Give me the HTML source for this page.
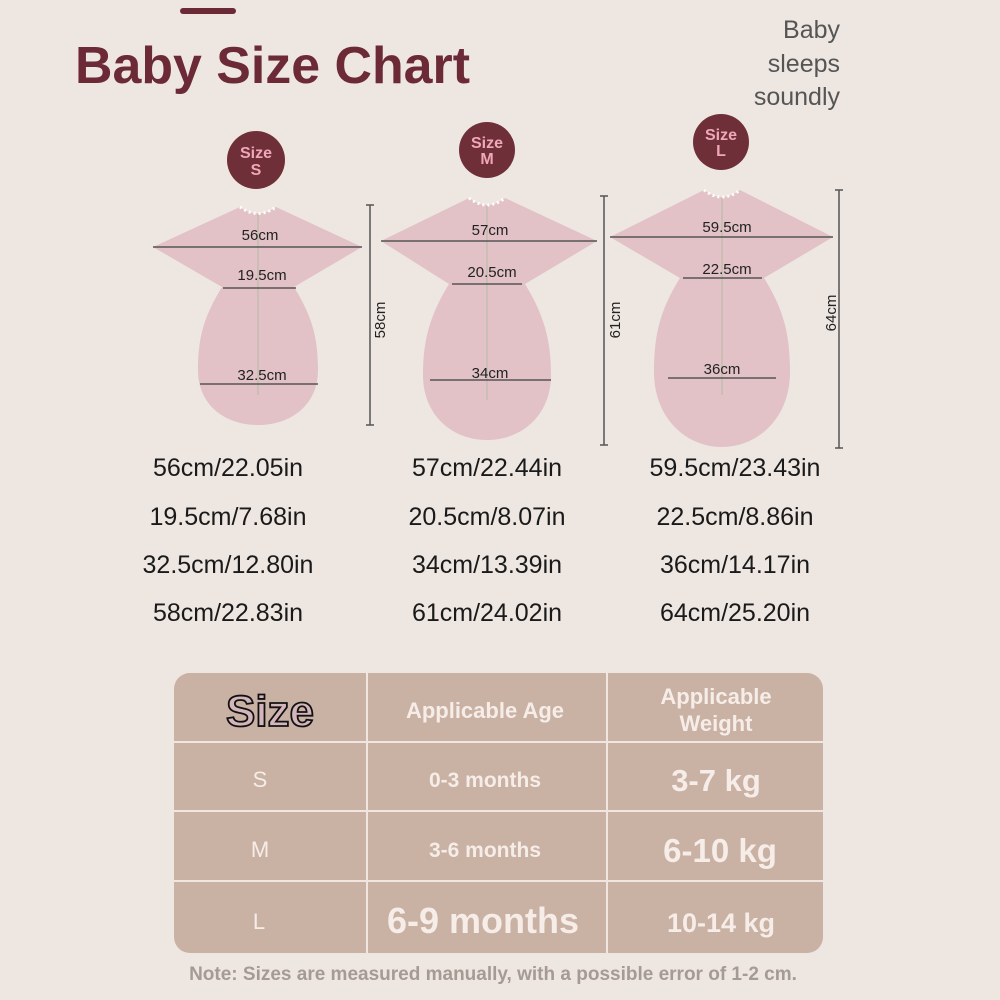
<!DOCTYPE html>
<html><head><meta charset="utf-8"><style>
html,body{margin:0;padding:0;background:#ede6e1;}
svg{display:block;font-family:"Liberation Sans","DejaVu Sans",sans-serif;}
</style></head><body>
<svg width="1000" height="1000" viewBox="0 0 1000 1000" xmlns="http://www.w3.org/2000/svg">
<rect width="1000" height="1000" fill="#ede6e1"/>
<rect x="180" y="8" width="56" height="6" rx="3" fill="#6b2a35"/>
<text x="75" y="83" font-size="52" font-weight="bold" fill="#6b2a35" textLength="395" lengthAdjust="spacingAndGlyphs">Baby Size Chart</text>
<g font-size="25" fill="#555" text-anchor="end">
<text x="840" y="38">Baby</text><text x="840" y="72">sleeps</text><text x="840" y="105">soundly</text>
</g>
<g font-weight="bold" fill="#f0a8b8" text-anchor="middle" font-size="16">
<circle cx="256" cy="160" r="29" fill="#6e2f39"/><text x="256" y="158">Size</text><text x="256" y="175">S</text>
<circle cx="487" cy="150" r="28" fill="#6e2f39"/><text x="487" y="148">Size</text><text x="487" y="164">M</text>
<circle cx="721" cy="142" r="28" fill="#6e2f39"/><text x="721" y="140">Size</text><text x="721" y="156">L</text>
</g>
<g fill="#e2c2c6">
<path d="M240,207 L153,247 L222,287 C205,315 198,335 198,370 C198,405 225,425 258,425 C291,425 318,405 318,370 C318,335 311,315 294,287 L362,247 L276,207 Q258,220 240,207 Z"/>
<path d="M469,198 L381,241 L449,284 C430,315 423,340 423,375 C423,415 452,440 487,440 C522,440 551,415 551,375 C551,340 544,315 525,284 L597,241 L505,198 Q487,212 469,198 Z"/>
<path d="M704,190 L610,237 L680,278 C660,310 654,335 654,372 C654,418 686,447 722,447 C758,447 790,418 790,372 C790,335 784,310 764,278 L833,237 L740,190 Q722,204 704,190 Z"/>
</g>
<g stroke="#fff" stroke-width="3" stroke-dasharray="2 3" fill="none">
<path d="M240,207 Q258,220 276,207"/><path d="M469,198 Q487,212 505,198"/><path d="M704,190 Q722,204 740,190"/>
</g>
<g stroke="#bba" stroke-width="1.2">
<line x1="258" y1="214" x2="258" y2="395"/><line x1="487" y1="206" x2="487" y2="400"/><line x1="722" y1="198" x2="722" y2="395"/>
</g>
<g stroke="#555" stroke-width="1.5">
<line x1="153" y1="247" x2="362" y2="247"/><line x1="223" y1="288" x2="296" y2="288"/><line x1="200" y1="384" x2="318" y2="384"/>
<line x1="381" y1="241" x2="597" y2="241"/><line x1="452" y1="284" x2="522" y2="284"/><line x1="430" y1="380" x2="551" y2="380"/>
<line x1="610" y1="237" x2="833" y2="237"/><line x1="683" y1="278" x2="762" y2="278"/><line x1="668" y1="378" x2="776" y2="378"/>
<line x1="370" y1="205" x2="370" y2="425"/><line x1="366" y1="205" x2="374" y2="205"/><line x1="366" y1="425" x2="374" y2="425"/>
<line x1="604" y1="196" x2="604" y2="445"/><line x1="600" y1="196" x2="608" y2="196"/><line x1="600" y1="445" x2="608" y2="445"/>
<line x1="839" y1="190" x2="839" y2="448"/><line x1="835" y1="190" x2="843" y2="190"/><line x1="835" y1="448" x2="843" y2="448"/>
</g>
<g font-size="15" fill="#222" text-anchor="middle">
<text x="260" y="240">56cm</text><text x="262" y="280">19.5cm</text><text x="262" y="380">32.5cm</text>
<text x="490" y="235">57cm</text><text x="492" y="277">20.5cm</text><text x="490" y="378">34cm</text>
<text x="727" y="232">59.5cm</text><text x="727" y="274">22.5cm</text><text x="722" y="374">36cm</text>
<text transform="translate(385,320) rotate(-90)">58cm</text>
<text transform="translate(620,320) rotate(-90)">61cm</text>
<text transform="translate(836,313) rotate(-90)">64cm</text>
</g>
<g font-size="25" fill="#1a1a1a" text-anchor="middle">
<text x="228" y="476">56cm/22.05in</text><text x="487" y="476">57cm/22.44in</text><text x="735" y="476">59.5cm/23.43in</text>
<text x="228" y="525">19.5cm/7.68in</text><text x="487" y="525">20.5cm/8.07in</text><text x="735" y="525">22.5cm/8.86in</text>
<text x="228" y="573">32.5cm/12.80in</text><text x="487" y="573">34cm/13.39in</text><text x="735" y="573">36cm/14.17in</text>
<text x="228" y="621">58cm/22.83in</text><text x="487" y="621">61cm/24.02in</text><text x="735" y="621">64cm/25.20in</text>
</g>
<rect x="174" y="673" width="649" height="280" rx="16" fill="#c9b1a4"/>
<g stroke="#f1e6df" stroke-width="2">
<line x1="367" y1="673" x2="367" y2="953"/><line x1="607" y1="673" x2="607" y2="953"/>
<line x1="174" y1="742" x2="823" y2="742"/><line x1="174" y1="811" x2="823" y2="811"/><line x1="174" y1="881" x2="823" y2="881"/>
</g>
<text x="270" y="726" font-size="44" font-weight="bold" text-anchor="middle" fill="#d4b5bb" stroke="#111" stroke-width="1.8">Size</text>
<g fill="#f6ede8" text-anchor="middle" font-weight="bold">
<text x="485" y="718" font-size="22">Applicable Age</text>
<text x="716" y="704" font-size="22">Applicable</text><text x="716" y="731" font-size="22">Weight</text>
<text x="485" y="787" font-size="21">0-3 months</text>
<text x="485" y="857" font-size="21">3-6 months</text>
<text x="483" y="933" font-size="36">6-9 months</text>
<text x="716" y="791" font-size="31">3-7 kg</text>
<text x="720" y="862" font-size="33">6-10 kg</text>
<text x="721" y="932" font-size="27">10-14 kg</text>
</g>
<g fill="#f6ede8" text-anchor="middle" font-size="22">
<text x="260" y="787">S</text><text x="260" y="857">M</text><text x="259" y="929">L</text>
</g>
<text x="493" y="980" font-size="19" font-weight="bold" fill="#a69a94" text-anchor="middle">Note: Sizes are measured manually, with a possible error of 1-2 cm.</text>
</svg>
</body></html>
